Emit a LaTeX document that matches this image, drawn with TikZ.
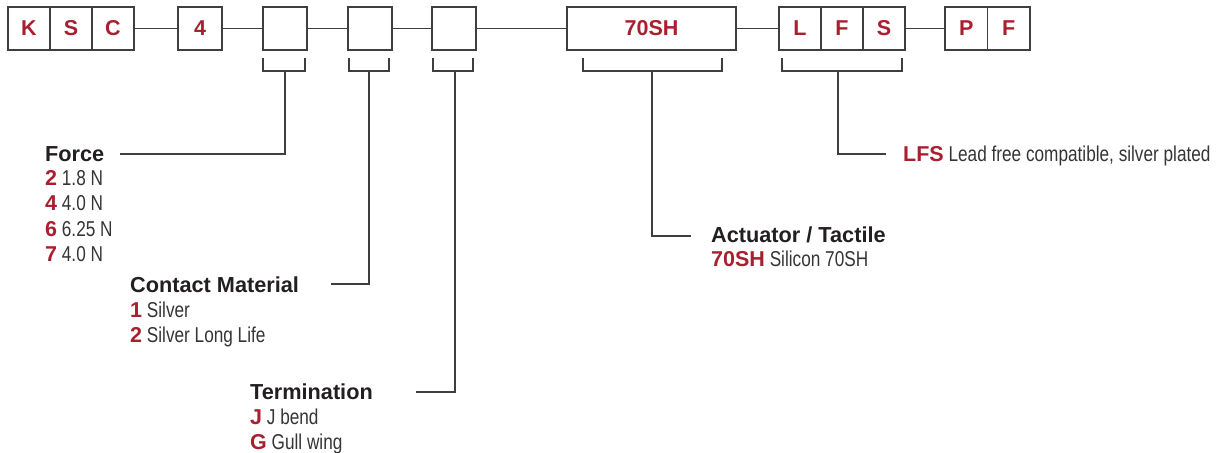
\documentclass[tikz,border=0pt]{standalone}
\usepackage{fontspec}
\setmainfont{Liberation Sans}
\newfontfamily\narrowfont[FakeStretch=0.8]{Liberation Sans}
\usepackage{tikz}

\definecolor{codered}{HTML}{A8202F}
\definecolor{inkgray}{HTML}{231F20}
\definecolor{textgray}{HTML}{363435}
\definecolor{linegray}{HTML}{3F3F3F}
\newcommand{\code}[1]{{\rmfamily\bfseries\color{codered}#1}}

\begin{document}
\begin{tikzpicture}[x=1pt,y=-1pt]

\useasboundingbox (0,0) rectangle (1222,452);
\tikzset{cell/.style = {shape=rectangle,draw=linegray,line width=1.3pt,minimum width=42pt,minimum height=43pt,inner sep=0pt,text=codered,font=\fontsize{21.5}{25}\selectfont\bfseries}}
\tikzset{link/.style = {draw=linegray,line width=1.4pt}}
\tikzset{title/.style = {anchor=base west,inner sep=0pt,text=inkgray,font=\fontsize{21.7}{25}\selectfont\bfseries}}
\tikzset{entry/.style = {anchor=base west,inner sep=0pt,text=textgray,font=\fontsize{21.5}{25}\selectfont\narrowfont}}
% code boxes
\node[cell] (k) at (29,28.5) {K};
\node[cell] (s) at (71,28.5) {S};
\node[cell] (c) at (113,28.5) {C};
\node[cell,minimum width=44pt] (four) at (200,28.5) {4};
\node[cell,minimum width=44pt] (force) at (285,28.5) {};
\node[cell,minimum width=44pt] (contact) at (370,28.5) {};
\node[cell,minimum width=44pt] (term) at (454,28.5) {};
\node[cell,minimum width=169pt] (act) at (651.5,28.5) {70SH};
\node[cell] (lfsL) at (800,28.5) {L};
\node[cell] (lfsF) at (842,28.5) {F};
\node[cell] (lfsS) at (884,28.5) {S};
\node[cell,minimum width=42.5pt] (pfP) at (966.25,28.5) {P};
\node[cell,minimum width=42.5pt] (pfF) at (1008.75,28.5) {F};

% labels
\node[title] (forceT) at (45,161) {Force};
\node[entry] (force2) at (45,185) {\code{2} 1.8 N};
\node[entry] (force4) at (45,210.5) {\code{4} 4.0 N};
\node[entry] (force6) at (45,236) {\code{6} 6.25 N};
\node[entry] (force7) at (45,261.5) {\code{7} 4.0 N};

\node[title] (contactT) at (130,292) {Contact Material};
\node[entry] (contact1) at (130,317) {\code{1} Silver};
\node[entry] (contact2) at (130,342) {\code{2} Silver Long Life};

\node[title] (termT) at (250,399) {Termination};
\node[entry] (termJ) at (250,424.5) {\code{J} J bend};
\node[entry] (termG) at (250,449) {\code{G} Gull wing};

\node[title] (actT) at (711,242) {Actuator / Tactile};
\node[entry] (act70) at (711,266) {\code{70SH} Silicon 70SH};

\node[entry] (lfsT) at (903,161) {\code{LFS} Lead free compatible, silver plated};

% leader ends
\coordinate (forceTip) at (285,71);
\coordinate (forceEnd) at (120,154);
\coordinate (contactTip) at (369,71);
\coordinate (contactEnd) at (331,284);
\coordinate (termTip) at (455,71);
\coordinate (termEnd) at (416,392);
\coordinate (actTip) at (652,71);
\coordinate (actEnd) at (691,236);
\coordinate (lfsTip) at (838,71);
\coordinate (lfsEnd) at (886,154);

%edges
\draw[link] (c) -- (four);
\draw[link] (four) -- (force);
\draw[link] (force) -- (contact);
\draw[link] (contact) -- (term);
\draw[link] (term) -- (act);
\draw[link] (act) -- (lfsL);
\draw[link] (lfsS) -- (pfP);

% brackets
\draw[link] (263,58) -- (263,71) -- (305,71) -- (305,58);
\draw[link] (349,58) -- (349,71) -- (389,71) -- (389,58);
\draw[link] (433,58) -- (433,71) -- (473,71) -- (473,58);
\draw[link] (583,58) -- (583,71) -- (722,71) -- (722,58);
\draw[link] (782,58) -- (782,71) -- (902,71) -- (902,58);

\draw[link] (forceTip) |- (forceEnd);
\draw[link] (contactTip) |- (contactEnd);
\draw[link] (termTip) |- (termEnd);
\draw[link] (actTip) |- (actEnd);
\draw[link] (lfsTip) |- (lfsEnd);
\end{tikzpicture}
\end{document}
